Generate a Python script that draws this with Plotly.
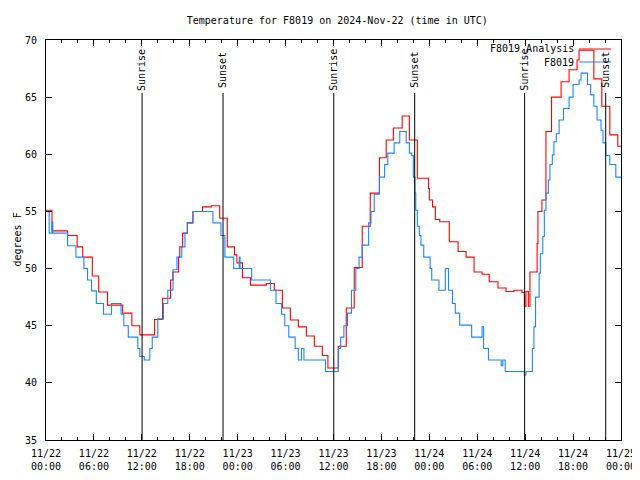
import pandas as pd
import plotly.graph_objects as go

BASE = pd.Timestamp("2024-11-22 00:00")

# hours since 11/22 00:00 UTC, values in degrees F (step series)
red_hours = [0.0, 0.75, 2.7, 3.9, 4.6, 5.8, 6.6, 7.7, 9.6, 10.75, 11.75, 13.6, 14.6, 15.6, 15.9,
             16.6, 16.75, 17.1, 17.7, 18.4, 19.6, 20.7, 21.75, 22.7, 23.6, 23.9, 24.6, 25.6,
             27.6, 28.6, 29.6, 30.6, 31.6, 32.6, 33.6, 34.6, 35.3, 36.6, 37.6, 38.6, 39.6,
             40.6, 41.75, 42.6, 43.5, 44.6, 45.5, 46.5, 47.9, 48.0, 48.4, 48.75, 49.3, 50.5,
             51.6, 52.6, 53.6, 54.6, 55.5, 56.6, 57.6, 58.6, 59.6, 59.9, 60.1, 60.4, 60.6,
             61.5, 61.6, 62.1, 62.6, 63.3, 64.5, 65.5, 66.5, 66.75, 68.6, 69.6, 70.6, 71.6, 72.0]
red_vals = [55.1, 53.3, 52.9, 51.9, 51.0, 49.35, 47.95, 46.8, 46.1, 45.0, 44.2, 45.55, 47.4, 49.0, 49.7,
            51.0, 51.9, 53.1, 54.0, 55.0, 55.4, 55.5, 54.4, 51.9, 51.2, 50.5, 49.2, 48.55,
            48.7, 48.1, 46.55, 45.5, 44.9, 44.1, 43.2, 42.4, 41.3, 43.2, 46.55, 50.1, 53.7,
            56.6, 59.7, 61.25, 62.3, 63.35, 61.25, 57.9, 57.0, 56.0, 55.4, 54.3, 54.1, 52.35,
            51.5, 51.0, 49.7, 49.5, 48.85, 48.3, 48.0, 48.1, 47.9, 46.7, 48.0, 46.7, 49.7,
            52.2, 55.0, 56.0, 62.0, 65.0, 66.35, 67.4, 68.25, 69.1, 66.6, 64.2, 61.7, 60.7, 60.7]

blue_hours = [0.0, 0.4, 0.75, 0.85, 2.7, 3.75, 4.75, 5.2, 5.7, 6.3, 7.2, 8.2, 9.4, 9.75, 10.3,
              11.5, 11.75, 12.3, 13.0, 13.3, 14.0, 14.7, 15.25, 15.9, 16.4, 17.0, 17.4, 17.7,
              18.4, 20.9, 21.9, 22.4, 23.5, 24.2, 24.3, 25.75, 28.1, 28.8, 29.5, 29.9, 30.4,
              31.2, 31.6, 32.0, 32.3, 35.0, 36.6, 36.9, 37.3, 37.75, 38.25, 38.8, 39.2, 39.6,
              40.4, 40.7, 41.1, 41.75, 42.4, 42.8, 43.6, 44.3, 45.1, 45.5, 45.8, 46.0, 46.2,
              46.3, 46.5, 46.75, 46.95, 47.3, 48.1, 48.3, 49.2, 50.0, 50.4, 50.9, 51.25, 51.8,
              53.3, 54.6, 54.8, 55.4, 57.0, 57.2, 57.5, 59.9, 60.1, 60.9, 61.1, 61.3, 61.75,
              61.9, 62.2, 62.4, 62.6, 62.9, 63.1, 63.4, 63.6, 63.9, 64.25, 64.8, 65.5, 66.0,
              66.75, 67.0, 67.8, 68.2, 68.6, 69.0, 69.5, 69.75, 70.1, 70.6, 71.35, 72.0]
blue_vals = [55.0, 53.1, 54.1, 53.1, 52.0, 51.0, 50.0, 49.0, 48.05, 46.95, 46.0, 46.95, 46.0, 45.0, 44.0,
             43.0, 42.3, 42.0, 43.0, 44.0, 45.6, 46.95, 48.1, 49.9, 51.0, 51.9, 53.1, 54.0,
             55.0, 54.0, 52.9, 51.0, 50.0, 51.0, 50.0, 49.0, 48.1, 46.95, 46.0, 45.0, 44.0,
             43.0, 42.0, 43.0, 42.0, 41.0, 43.0, 44.0, 45.0, 46.1, 48.1, 50.0, 51.0, 52.05,
             54.0, 55.0, 56.5, 58.0, 59.1, 60.1, 61.0, 62.0, 61.0, 60.1, 59.9, 58.0, 56.6,
             55.1, 53.7, 52.9, 52.05, 51.0, 50.0, 49.0, 48.1, 50.0, 48.1, 46.95, 46.1, 45.05,
             44.0, 44.9, 43.0, 42.0, 41.5, 42.0, 41.0, 40.7, 41.0, 43.0, 44.9, 47.5, 49.6,
             51.3, 52.8, 55.1, 56.6, 57.75, 59.1, 59.95, 61.1, 61.8, 63.0, 64.0, 65.0, 66.1,
             66.5, 67.1, 66.1, 65.2, 64.2, 63.0, 62.1, 61.0, 59.9, 59.1, 58.0, 58.0]

event_labels = ["Sunrise", "Sunset", "Sunrise", "Sunset", "Sunrise", "Sunset"]
event_times = ["2024-11-22 12:02", "2024-11-22 22:10", "2024-11-23 12:02",
               "2024-11-23 22:10", "2024-11-24 11:56", "2024-11-24 22:05"]

tick_times = [BASE + pd.Timedelta(hours=6 * i) for i in range(13)]
tick_text = ["11/22<br>00:00", "11/22<br>06:00", "11/22<br>12:00", "11/22<br>18:00",
             "11/23<br>00:00", "11/23<br>06:00", "11/23<br>12:00", "11/23<br>18:00",
             "11/24<br>00:00", "11/24<br>06:00", "11/24<br>12:00", "11/24<br>18:00",
             "11/25<br>00:00"]

series_names = ["F8019 Analysis", "F8019"]
RED = "#ff0000"
BLUE = "#1a86ff"
FONT = "DejaVu Sans Mono"

red_x = [BASE + pd.Timedelta(hours=h) for h in red_hours]
blue_x = [BASE + pd.Timedelta(hours=h) for h in blue_hours]

fig = go.Figure()
fig.add_trace(go.Scatter(x=red_x, y=red_vals, mode="lines", line=dict(color=RED, width=1.1, shape="hv"),
                         name=series_names[0], showlegend=False))
fig.add_trace(go.Scatter(x=blue_x, y=blue_vals, mode="lines", line=dict(color=BLUE, width=1.1, shape="hv"),
                         name=series_names[1], showlegend=False))

# sunrise / sunset markers
for lab, t in zip(event_labels, event_times):
    fig.add_shape(type="line", xref="x", yref="paper", x0=t, x1=t, y0=0, y1=0.8675,
                  line=dict(color="black", width=1))
    fig.add_annotation(x=t, xref="x", yref="paper", y=0.925, text=lab, textangle=-90,
                       showarrow=False, xanchor="center", yanchor="middle",
                       font=dict(family=FONT, size=10, color="black"))

# legend (gnuplot style: text then sample line)
leg_y = [0.9775, 0.945]
for name, col, yy in zip(series_names, [RED, BLUE], leg_y):
    fig.add_annotation(x=0.922, y=yy, xref="paper", yref="paper", text=name, showarrow=False,
                       xanchor="right", yanchor="middle", font=dict(family=FONT, size=10, color="black"))
    fig.add_shape(type="line", xref="paper", yref="paper", x0=0.927, x1=0.983, y0=yy, y1=yy,
                  line=dict(color=col, width=1.1))

fig.add_annotation(x=-37 / 575, y=0.5, xref="paper", yref="paper", text="degrees F", textangle=-90,
                   showarrow=False, xanchor="left", yanchor="middle",
                   font=dict(family=FONT, size=10, color="black"))

# page places the figure 8px in from the top-left corner
fig.update_layout(
    width=632, height=472,
    margin=dict(l=38, r=19, t=32, b=40, pad=0, autoexpand=False),
    paper_bgcolor="white", plot_bgcolor="white",
    font=dict(family=FONT, size=10, color="black"),
    title=dict(text="Temperature for F8019 on 2024-Nov-22 (time in UTC)", x=0.521, xanchor="center",
               y=1 - 12 / 472, yanchor="middle", font=dict(family=FONT, size=10, color="black")),
    showlegend=False,
)
fig.update_xaxes(
    automargin=False,
    range=[BASE, BASE + pd.Timedelta(hours=72)],
    tickvals=tick_times, ticktext=tick_text,
    showline=True, linecolor="black", linewidth=1, mirror="allticks",
    ticks="inside", ticklen=6, tickcolor="black", tickwidth=1,
    ticklabelstandoff=4,
    showgrid=False, zeroline=False,
    minor=dict(dtick=2 * 3600 * 1000, ticks="inside", ticklen=3, tickcolor="black", showgrid=False),
    tickfont=dict(family=FONT, size=10, color="black"),
)
fig.update_yaxes(
    automargin=False,
    range=[35, 70], dtick=5, tick0=35,
    showline=True, linecolor="black", linewidth=1, mirror="allticks",
    ticks="inside", ticklen=6, tickcolor="black", tickwidth=1,
    ticklabelstandoff=6,
    showgrid=False, zeroline=False,
    tickfont=dict(family=FONT, size=10, color="black"),
)

fig.write_html("out.html")
